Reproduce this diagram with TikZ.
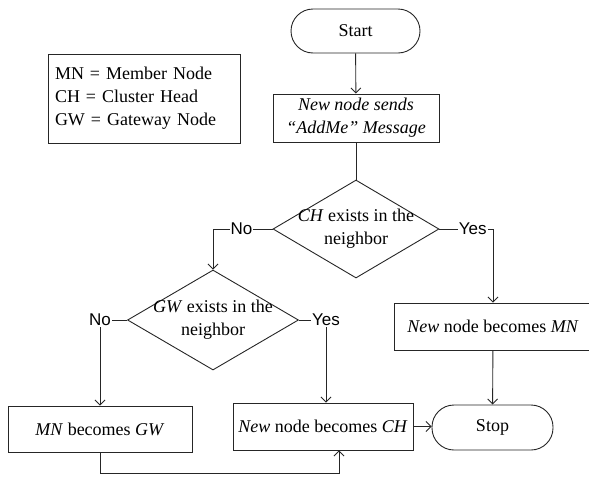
\documentclass[tikz,border=0pt]{standalone}
\usepackage{fontspec}
\setmainfont{Liberation Serif}
\newfontfamily\labelfont{Liberation Sans}
\usetikzlibrary{shapes.geometric,arrows.meta}
\begin{document}
\begin{tikzpicture}[x=1pt,y=-1pt,
  every node/.style={font=\fontsize{18}{23}\selectfont},
  stroke/.style={line width=0.9pt, draw=black!85},
  conn/.style={stroke, -{Straight Barb[length=5pt,width=10pt]}},
  terminal/.style={stroke, rectangle, rounded corners=22pt, inner sep=0pt},
  proc/.style={stroke, rectangle, inner sep=0pt, align=center},
  decision/.style={stroke, diamond, inner sep=0pt},
  lbl/.style={font=\labelfont\fontsize{17}{20}\selectfont, fill=white, inner sep=1pt}
]
\useasboundingbox (0,0) rectangle (589,477);

% legend
\node[stroke, rectangle, minimum width=192pt, minimum height=89pt,
      text width=178pt, inner xsep=7pt, align=left] (legend) at (144,98.5)
  {MN = Member Node\\CH = Cluster Head\\GW = Gateway Node};

% flow chart nodes
\node[terminal, minimum width=129pt, minimum height=44pt] (start) at (355.5,31) {Start};
\node[proc, minimum width=166pt, minimum height=48pt] (send) at (356,118)
  {\itshape New node sends\\\itshape ``AddMe'' Message};
\node[decision, minimum width=166pt, minimum height=98pt] (ch) at (356,229) {};
\node[align=center] (chtext) at (ch) {\textit{CH} exists in the\\neighbor};
\node[decision, minimum width=171pt, minimum height=100pt] (gw) at (213,320) {};
\node[align=center] (gwtext) at (gw) {\textit{GW} exists in the\\neighbor};
\node[proc, minimum width=198pt, minimum height=47pt] (mn) at (493,326.5)
  {\textit{New} node becomes \textit{MN}};
\node[proc, minimum width=184pt, minimum height=46pt] (mngw) at (100,429)
  {\textit{MN} becomes \textit{GW}};
\node[proc, minimum width=180pt, minimum height=47pt] (chb) at (323,426.5)
  {\textit{New} node becomes \textit{CH}};
\node[terminal, minimum width=121pt, minimum height=45pt] (stop) at (492.5,427.5) {Stop};

% connectors
\draw[conn] (start) -- (send);
\draw[stroke] (send.south) -- (ch.north);
\draw[conn] (ch.west) -| node[lbl, pos=0.26] (chno) {No} (gw.north);
\draw[conn] (ch.east) -| node[lbl, pos=0.31] (chyes) {Yes} (mn.north);
\draw[conn] (mn) -- (stop);
\draw[conn] (gw.west) -| node[lbl, pos=0.5] (gwno) {No} (mngw.north);
\draw[conn] (gw.east) -| node[lbl, pos=0.5] (gwyes) {Yes} ([xshift=3pt]chb.north);
\draw[conn] (chb.east) -- (stop.west |- chb.east);
\coordinate (loop) at (100,473);
\draw[conn] (mngw.south) -- (loop) -| ([xshift=16pt]chb.south);
\end{tikzpicture}
\end{document}
